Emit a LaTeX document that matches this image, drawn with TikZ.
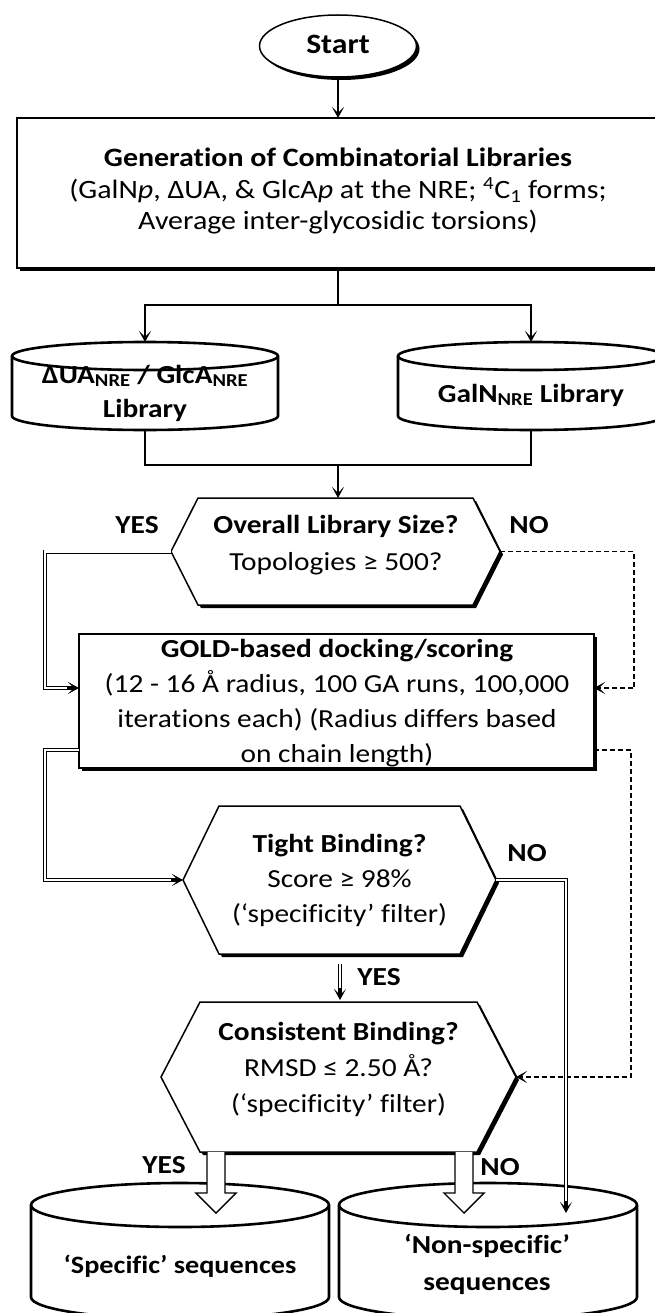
\documentclass[tikz,border=0pt]{standalone}
\usepackage{fontspec}
\setmainfont{Carlito}[FakeStretch=1.13, Ligatures=NoCommon]
\usetikzlibrary{arrows.meta,calc,shapes.geometric}
\pgfdeclarelayer{bg}
\pgfsetlayers{bg,main}

% hexagonal decision outline through the anchors of a frame node (#2 = slant inset)
\newcommand\hexpath[2]{(#1.west) -- ($(#1.north west)+(#2,0)$) -- ($(#1.north east)+(-#2,0)$) -- (#1.east) -- ($(#1.south east)+(-#2,0)$) -- ($(#1.south west)+(#2,0)$) -- cycle}
% drum (database) outline: frame node, x radius, y radius of the end caps
\newcommand\drumbody[3]{($(#1.north west)+(0,#3)$) -- ($(#1.south west)+(0,-#3)$) arc[start angle=180,end angle=0,x radius=#2,y radius=#3] -- ($(#1.north east)+(0,#3)$) arc[start angle=0,end angle=-180,x radius=#2,y radius=#3] -- cycle}
\newcommand\drumlid[3]{($(#1.north west)+(0,#3)$) arc[start angle=180,end angle=0,x radius=#2,y radius=#3]}
% hollow block arrow pointing down from #1 to #2
\newcommand\fatarrow[2]{\filldraw[fill=white,line width=1.4pt] ($(#1)+(-9,0)$) -- ($(#2)+(-9,-20)$) -- ($(#2)+(-20,-20)$) -- (#2) -- ($(#2)+(20,-20)$) -- ($(#2)+(9,-20)$) -- ($(#1)+(9,0)$);}
% centred multi-line text whose baseline is the first line
\newcommand\txtlines[1]{\begin{tabular}[t]{@{}c@{}}#1\end{tabular}}

\begin{document}
\begin{tikzpicture}[x=1pt,y=-1pt,
  ln/.style={line width=1.6pt},
  tip/.style={-{Stealth[length=11pt,width=12pt,inset=6pt]}},
  dbl/.style={double, double distance=2.2pt, line width=0.9pt},
  dsh/.style={line width=1.6pt, dash pattern=on 5pt off 3pt},
  frame/.style={inner sep=0pt, outer sep=0pt},
  shade/.style={fill=black, transform canvas={xshift=3pt,yshift=-3pt}},
  face/.style={fill=white, draw=black, line width=1.5pt},
  tx/.style={inner sep=0pt, anchor=base, font=\fontsize{26}{35}\selectfont},
  lbl/.style={inner sep=0pt, anchor=base, font=\fontsize{26}{30}\selectfont\bfseries},
]
\useasboundingbox (0,0) rectangle (654,1313);

% frames of the shapes
\node[frame, ellipse, minimum width=157, minimum height=62] (st) at (338,46) {};
\node[frame, minimum width=642, minimum height=150] (gen) at (338,193) {};
\node[frame, minimum width=266, minimum height=88] (lib1) at (145,386) {};
\node[frame, minimum width=266, minimum height=88] (lib2) at (531,386) {};
\node[frame, minimum width=329, minimum height=107] (q1) at (335.5,551.5) {};
\node[frame, minimum width=515, minimum height=134] (gold) at (336.5,701) {};
\node[frame, minimum width=313, minimum height=148] (q2) at (339.5,880) {};
\node[frame, minimum width=355, minimum height=150] (q3) at (338.5,1077) {};
\node[frame, minimum width=298, minimum height=136] (spec) at (180,1251) {};
\node[frame, minimum width=298, minimum height=136] (nspec) at (488,1251) {};

\begin{pgfonlayer}{bg}
  \fill[shade] (st.center) ellipse[x radius=78.5, y radius=31];
  \filldraw[face] (st.center) ellipse[x radius=78.5, y radius=31];
  \fill[shade] (gen.south west) rectangle (gen.north east);
  \filldraw[face] (gen.south west) rectangle (gen.north east);
  \filldraw[face, line width=2.6pt] \drumbody{lib1}{133}{14};
  \draw[line width=2.6pt] \drumlid{lib1}{133}{14};
  \filldraw[face, line width=2.6pt] \drumbody{lib2}{133}{14};
  \draw[line width=2.6pt] \drumlid{lib2}{133}{14};
  \fill[shade] \hexpath{q1}{27};
  \filldraw[face] \hexpath{q1}{27};
  \fill[shade] (gold.south west) rectangle (gold.north east);
  \filldraw[face] (gold.south west) rectangle (gold.north east);
  \fill[shade] \hexpath{q2}{36};
  \filldraw[face] \hexpath{q2}{36};
  \fill[shade] \hexpath{q3}{39};
  \filldraw[face] \hexpath{q3}{39};
  \filldraw[face, line width=2.6pt] \drumbody{spec}{149}{22};
  \draw[line width=2.6pt] \drumlid{spec}{149}{22};
  \filldraw[face, line width=2.6pt] \drumbody{nspec}{149}{22};
  \draw[line width=2.6pt] \drumlid{nspec}{149}{22};
\end{pgfonlayer}

% connectors
\draw[ln,tip] (st.south) -- (gen.north);
\coordinate (sp) at ($(gen.south)+(0,37)$);
\draw[ln] (gen.south) -- (sp);
\draw[ln,tip] (sp) -| (lib1.north);
\draw[ln,tip] (sp) -| (lib2.north);
\coordinate (mg) at ($(gen.south)+(0,197)$);
\draw[ln] (lib1.south) |- (mg) -| (lib2.south);
\draw[ln,tip] (mg) -- (mg |- q1.north);

\coordinate (busL) at (45,0);
\coordinate (busR) at (634,0);
\coordinate (busR2) at (631,0);
\coordinate (g1) at ($(gold.west)+(0,-13)$);
\coordinate (g2) at ($(gold.east)+(0,-13)$);
\coordinate (g3) at ($(gold.west)+(0,49)$);
\coordinate (g4) at ($(gold.east)+(0,49)$);

\draw[dbl] (q1.west) -- (q1.west -| busL) -- (busL |- g1) -- ($(g1)+(-6,0)$);
\draw[ln,tip] ($(g1)+(-12,0)$) -- (g1);
\draw[dsh,tip] (q1.east) -- (q1.east -| busR) -- (busR |- g2) -- (g2);

\draw[dbl] (g3) -- (g3 -| busL) -- (busL |- q2.west) -- ($(q2.west)+(-6,0)$);
\draw[ln,tip] ($(q2.west)+(-12,0)$) -- (q2.west);
\draw[dsh,tip] (g4) -- (g4 -| busR2) -- (busR2 |- q3.east) -- (q3.east);

\coordinate (nsTip) at (566,1213);
\draw[dbl] (q2.east) -- (q2.east -| nsTip) -- ($(nsTip)+(0,-6)$);
\draw[ln,tip] ($(nsTip)+(0,-12)$) -- (nsTip);

\coordinate (y2a) at ($(q2.south)+(0.5,10)$);
\coordinate (y2b) at ($(q3.north)+(1.5,-2)$);
\draw[dbl] (y2a) -- ($(y2b)+(0,-6)$);
\draw[ln,tip] ($(y2b)+(0,-12)$) -- (y2b);

\coordinate (spTip) at (216,1213);
\coordinate (nsBlk) at (464,1213);
\coordinate (spTop) at (q3.south -| spTip);
\coordinate (nsTop) at (q3.south -| nsBlk);
\fatarrow{spTop}{spTip}
\fatarrow{nsTop}{nsBlk}

% texts
\node[lbl, font=\fontsize{28}{30}\selectfont\bfseries] (stt) at (338,54) {Start};
\node[tx, font=\fontsize{26.5}{31.5}\selectfont] (gent) at (338,167) {\txtlines{\textbf{Generation of Combinatorial Libraries}\\ (GalN\textit{p}, ΔUA, \& GlcA\textit{p} at the NRE; \textsuperscript{4}C\textsubscript{1} forms;\\ Average inter-glycosidic torsions)}};
\node[tx, font=\fontsize{26}{34}\selectfont\bfseries] (lib1t) at (145,383) {\txtlines{ΔUA\textsubscript{NRE} / GlcA\textsubscript{NRE}\\ Library}};
\node[tx, font=\fontsize{26}{34}\selectfont\bfseries] (lib2t) at (531,402) {GalN\textsubscript{NRE} Library};
\node[tx, font=\fontsize{26}{37}\selectfont] (q1t) at (336,533) {\txtlines{\textbf{Overall Library Size?}\\ Topologies ≥ 500?}};
\node[lbl] (yes1) at (137,533) {YES};
\node[lbl] (no1) at (529,533) {NO};
\node[tx, font=\fontsize{26}{35.3}\selectfont] (goldt) at (337,657) {\txtlines{\textbf{GOLD-based docking/scoring}\\ (12 - 16 Å radius, 100 GA runs, 100,000\\ iterations each) (Radius differs based\\ on chain length)}};
\node[tx] (q2t) at (339.5,852) {\txtlines{\textbf{Tight Binding?}\\ Score ≥ 98\%\\ (‘specificity’ filter)}};
\node[lbl] (no2) at (527,861) {NO};
\node[lbl] (yes2) at (379,985) {YES};
\node[tx, font=\fontsize{26}{36}\selectfont] (q3t) at (338.5,1040) {\txtlines{\textbf{Consistent Binding?}\\ RMSD ≤ 2.50 Å?\\ (‘specificity’ filter)}};
\node[lbl] (yes3) at (164,1173) {YES};
\node[lbl] (no3) at (500,1175) {NO};
\node[lbl, font=\fontsize{25}{30}\selectfont\bfseries] (spect) at (180,1273) {‘Specific’ sequences};
\node[tx, font=\fontsize{26}{37}\selectfont\bfseries] (nspect) at (487,1253) {\txtlines{‘Non-specific’\\ sequences}};
\end{tikzpicture}
\end{document}
